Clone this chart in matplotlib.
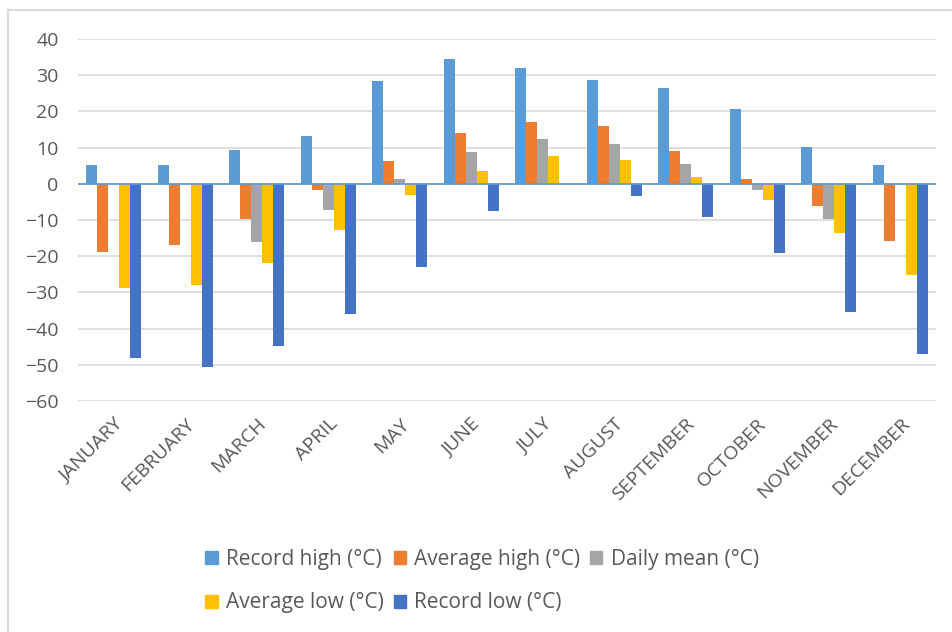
import numpy as np
import matplotlib
matplotlib.use("Agg")
import matplotlib.pyplot as plt
from matplotlib.lines import Line2D
from matplotlib.patches import Patch

plt.rcParams['font.family'] = ['Open Sans', 'DejaVu Sans']

months = ["JANUARY", "FEBRUARY", "MARCH", "APRIL", "MAY", "JUNE", "JULY",
          "AUGUST", "SEPTEMBER", "OCTOBER", "NOVEMBER", "DECEMBER"]

record_high = [5.2, 5.2, 9.4, 13.3, 28.5, 34.4, 31.9, 28.8, 26.6, 20.6, 10.1, 5.2]
average_high = [-18.8, -16.8, -9.7, -1.6, 6.2, 14.0, 17.1, 16.0, 9.0, 1.3, -6.2, -15.7]
daily_mean = [np.nan, np.nan, -16.0, -7.2, 1.3, 8.7, 12.5, 11.1, 5.5, -1.6, -9.7, np.nan]
average_low = [-28.9, -28.0, -21.9, -12.8, -3.2, 3.4, 7.6, 6.5, 2.0, -4.4, -13.5, -25.3]
record_low = [-48.1, -50.6, -44.9, -36.1, -23.0, -7.6, np.nan, -3.3, -9.3, -19.2, -35.4, -47.0]

series_names = ["Record high (°C)", "Average high (°C)", "Daily mean (°C)",
                "Average low (°C)", "Record low (°C)"]
series_values = [record_high, average_high, daily_mean, average_low, record_low]
colors = ["#5B9BD5", "#ED7D31", "#A5A5A5", "#FFC000", "#4472C4"]
y_ticks = [-60, -50, -40, -30, -20, -10, 0, 10, 20, 30, 40]

W, H = 952, 632
fig = plt.figure(figsize=(W / 100, H / 100), dpi=100)
ax = fig.add_axes([78 / W, 1 - 401 / H, (936 - 78) / W, (401 - 39) / H])

x = np.arange(len(months))
bw = 1 / 6.5
for i, (name, vals, c) in enumerate(zip(series_names, series_values, colors)):
    ax.bar(x + (i - 2) * bw, np.array(vals, dtype=float), width=bw, color=c,
           label=name, zorder=3)

ax.set_xlim(-0.5, len(months) - 0.5)
ax.set_ylim(-60, 40)
ax.set_yticks(y_ticks)
ax.yaxis.grid(True, color="#D9D9D9", linewidth=1.2, zorder=0)
ax.axhline(0, color="#5B9BD5", linewidth=1.2, zorder=4)
for s in ax.spines.values():
    s.set_visible(False)
ax.tick_params(axis="y", length=0, pad=14, labelsize=14, labelcolor="#595959")
ax.tick_params(axis="x", length=0, pad=10, labelsize=14, labelcolor="#595959")
ax.set_xticks(x)
ax.set_xticklabels(months, rotation=45, ha="right", rotation_mode="anchor")

handles = [Patch(color=c) for c in colors]
order = [0, 3, 1, 4, 2]
fig.legend([handles[k] for k in order], [series_names[k] for k in order],
           ncol=3, loc="center left", bbox_to_anchor=(195 / W, 1 - 581 / H),
           frameon=False, fontsize=15, labelcolor="#595959",
           handlelength=0.6, handleheight=0.6, handletextpad=0.4,
           columnspacing=0.45, labelspacing=1.1, borderpad=0)

# light chart-area frame along the top and left
fig.add_artist(Line2D([7.5 / W, 7.5 / W], [0, 1 - 10 / H], color="#D9D9D9",
                      linewidth=1.5, transform=fig.transFigure))
fig.add_artist(Line2D([7.5 / W, 1], [1 - 10 / H, 1 - 10 / H], color="#D9D9D9",
                      linewidth=1.5, transform=fig.transFigure))

fig.savefig("out.png", dpi=100, facecolor="white")
